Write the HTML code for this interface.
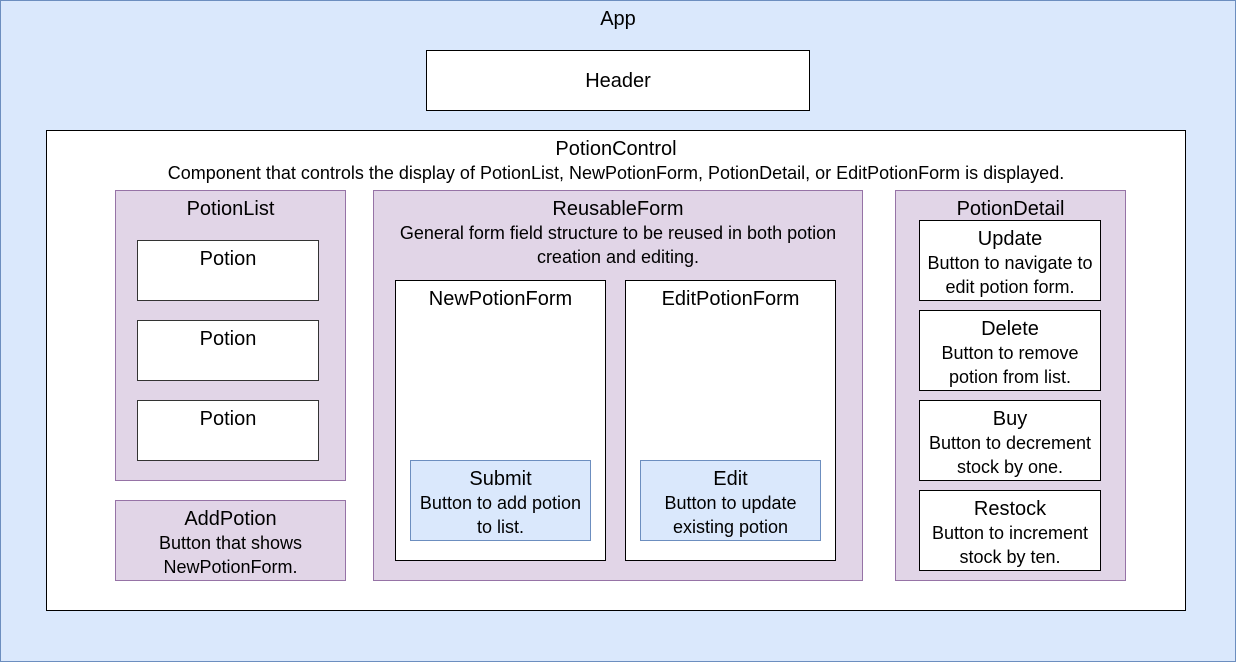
<!DOCTYPE html>
<html><head><style>
body{margin:0;width:1236px;height:662px;position:relative;font-family:"Liberation Sans",sans-serif;color:#000;overflow:hidden}
.b{position:absolute;box-sizing:border-box;text-align:center;padding-top:6px;line-height:24px}
.t{font-size:20px}
.d{font-size:18px}
.blue{background:#dae8fc;border:1px solid #6c8ebf}
.pur{background:#e1d5e7;border:1px solid #9673a6}
.w{background:#fff;border:1px solid #000}
</style></head><body>
<div class="b blue" style="left:0;top:0;width:1236px;height:662px"><div class="t">App</div></div>
<div class="b w" style="left:426px;top:50px;width:384px;height:61px;padding-top:18px"><div class="t">Header</div></div>
<div class="b w" style="left:46px;top:130px;width:1140px;height:481px"><div class="t">PotionControl</div><div class="d">Component that controls the display of PotionList, NewPotionForm, PotionDetail, or EditPotionForm is displayed.</div></div>
<div class="b pur" style="left:115px;top:190px;width:231px;height:291px"><div class="t">PotionList</div></div>
<div class="b w" style="left:137px;top:240px;width:182px;height:61px;border-color:#333"><div class="t">Potion</div></div>
<div class="b w" style="left:137px;top:320px;width:182px;height:61px;border-color:#333"><div class="t">Potion</div></div>
<div class="b w" style="left:137px;top:400px;width:182px;height:61px;border-color:#333"><div class="t">Potion</div></div>
<div class="b pur" style="left:115px;top:500px;width:231px;height:81px"><div class="t">AddPotion</div><div class="d">Button that shows<br>NewPotionForm.</div></div>
<div class="b pur" style="left:373px;top:190px;width:490px;height:391px"><div class="t">ReusableForm</div><div class="d">General form field structure to be reused in both potion<br>creation and editing.</div></div>
<div class="b w" style="left:395px;top:280px;width:211px;height:281px"><div class="t">NewPotionForm</div></div>
<div class="b w" style="left:625px;top:280px;width:211px;height:281px"><div class="t">EditPotionForm</div></div>
<div class="b blue" style="left:410px;top:460px;width:181px;height:81px"><div class="t">Submit</div><div class="d">Button to add potion<br>to list.</div></div>
<div class="b blue" style="left:640px;top:460px;width:181px;height:81px"><div class="t">Edit</div><div class="d">Button to update<br>existing potion</div></div>
<div class="b pur" style="left:895px;top:190px;width:231px;height:391px"><div class="t">PotionDetail</div></div>
<div class="b w" style="left:919px;top:220px;width:182px;height:81px"><div class="t">Update</div><div class="d">Button to navigate to<br>edit potion form.</div></div>
<div class="b w" style="left:919px;top:310px;width:182px;height:81px"><div class="t">Delete</div><div class="d">Button to remove<br>potion from list.</div></div>
<div class="b w" style="left:919px;top:400px;width:182px;height:81px"><div class="t">Buy</div><div class="d">Button to decrement<br>stock by one.</div></div>
<div class="b w" style="left:919px;top:490px;width:182px;height:81px"><div class="t">Restock</div><div class="d">Button to increment<br>stock by ten.</div></div>
</body></html>
